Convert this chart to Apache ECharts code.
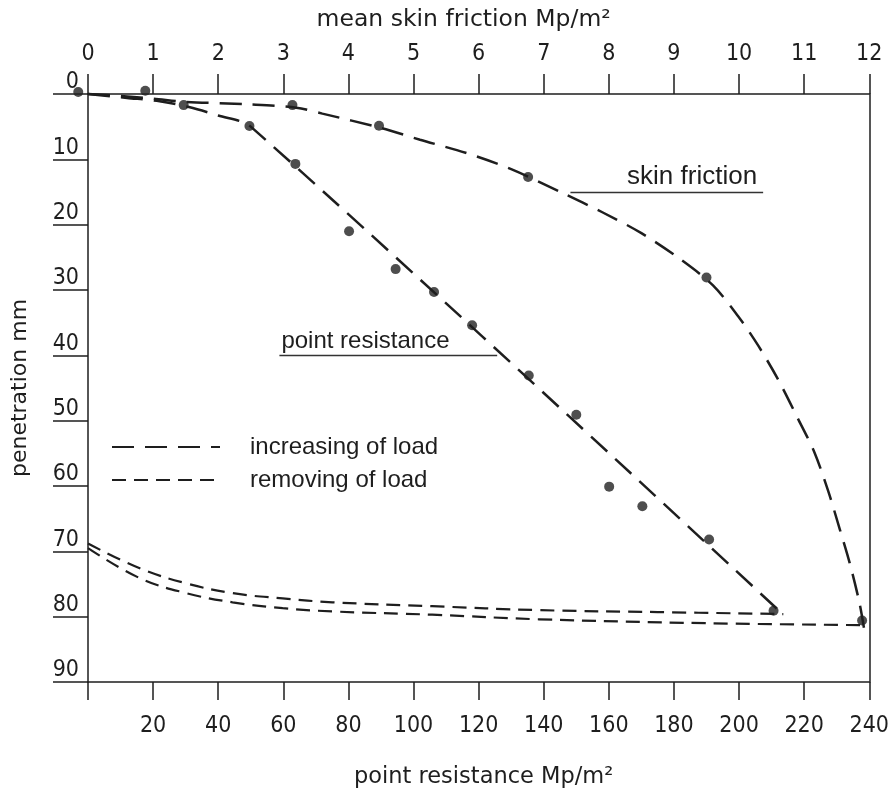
<!DOCTYPE html>
<html><head><meta charset="utf-8">
<script src="https://cdn.jsdelivr.net/npm/echarts@6/dist/echarts.min.js"></script>
<style>html,body{margin:0;padding:0;background:#fff}#c{width:892px;height:796px}</style>
</head><body><div id="c"></div>
<script>
// point resistance measurements [Mp/m2, penetration mm]
const prPoints = [[29.4,1.7],[49.6,4.9],[63.7,10.7],[80.2,21.0],[94.5,26.8],[106.3,30.3],[118.0,35.4],[135.4,43.1],[150.0,49.1],[160.1,60.1],[170.3,63.1],[190.8,68.2],[210.6,79.1]];
// mean skin friction measurements [Mp/m2, penetration mm]
const sfPoints = [[-0.15,-0.3],[0.88,-0.5],[3.14,1.7],[4.47,4.85],[6.76,12.7],[9.50,28.1],[11.89,80.6]];
// fitted curve, point resistance, increasing load
const prLine = [[0,0],[12,0.6],[22,1.1],[31,2.0],[40,3.3],[50,5.0],[213.6,79.7]];
// fitted curve, skin friction, increasing load
const sfLine = [[0,0],[0.5,0.3],[1.0,0.7],[1.5,1.2],[2.5,1.6],[3.2,2.1],[3.6,3.0],[4.5,5.2],[5.1,7.0],[5.8,9.0],[6.5,11.5],[7.3,15.2],[7.9,18.1],[8.5,21.3],[9.1,25.3],[9.6,29.3],[10.0,34.2],[10.3,38.6],[10.6,43.7],[10.9,49.6],[11.16,54.9],[11.37,60.8],[11.55,66.7],[11.70,71.8],[11.85,77.9],[11.92,81.8]];
// removing of load curves (point resistance units)
const unloadUpper = [[0,68.8],[15.9,72.6],[30.2,74.9],[44.4,76.4],[59.8,77.2],[75.1,77.8],[105.7,78.4],[138.5,79.0],[175,79.3],[213.6,79.6]];
const unloadLower = [[0,69.5],[15.9,74.1],[30.2,76.4],[44.4,77.8],[59.8,78.7],[75.1,79.2],[105.7,79.7],[138.5,80.4],[190,81.0],[239,81.3]];
// annotation underlines
const prNote = {text:'point resistance', from:[58.8,40.0], to:[125.7,40.0]};
const sfNote = {text:'skin friction', from:[7.41,15.0], to:[10.37,15.0]};
const legendNames = ['increasing of load','removing of load'];
const axisTitles = {top:'mean skin friction Mp/m²', bottom:'point resistance Mp/m²', left:'penetration mm'};

const INK = '#1e1e1e';
const NUM_FONT = '"Liberation Sans Narrow","DejaVu Sans Condensed",sans-serif';
const TXT_FONT = '"Liberation Sans",Arial,sans-serif';
const TITLE_FONT = '"DejaVu Sans",sans-serif';
const longDash = [22, 11];
const shortDash = [14, 8];

const chart = echarts.init(document.getElementById('c'), null, {renderer:'canvas'});
const line = {show:true, onZero:false, lineStyle:{color:INK, width:1.5}};
chart.setOption({
  backgroundColor:'#ffffff',
  animation:false,
  color:[INK],
  grid:{left:88, right:21, top:94, bottom:114, containLabel:false},
  legend:{
    data:legendNames, orient:'vertical', left:106, top:430,
    itemWidth:108, itemHeight:14, itemGap:9,
    itemStyle:{opacity:0, borderWidth:0},
    textStyle:{fontFamily:TXT_FONT, fontSize:24, color:INK, padding:[0,0,0,25]},
    selectedMode:false
  },
  xAxis:[
    {type:'value', position:'bottom', min:0, max:240, interval:20,
      axisLine:line, splitLine:{show:false},
      axisTick:{show:true, length:18, lineStyle:{color:INK, width:1.5}},
      axisLabel:{margin:33, fontFamily:NUM_FONT, fontSize:23, color:INK,
        formatter:v => v === 0 ? '' : String(v)},
      name:axisTitles.bottom, nameLocation:'middle', nameGap:84,
      nameTextStyle:{fontFamily:TITLE_FONT, fontSize:22.5, color:INK, padding:[0,0,0,10]}},
    {type:'value', position:'top', min:0, max:12, interval:1,
      axisLine:line, splitLine:{show:false},
      axisTick:{show:true, length:20, lineStyle:{color:INK, width:1.5}},
      axisLabel:{margin:28, fontFamily:NUM_FONT, fontSize:23, color:INK},
      name:axisTitles.top, nameLocation:'middle', nameGap:62,
      nameTextStyle:{fontFamily:TITLE_FONT, fontSize:23.5, color:INK, padding:[0,30,0,0]}}
  ],
  yAxis:[
    {type:'value', position:'left', inverse:true, min:0, max:90, interval:10,
      axisLine:line, splitLine:{show:false},
      axisTick:{show:true, length:35, lineStyle:{color:INK, width:1.5}},
      axisLabel:{margin:9, fontFamily:NUM_FONT, fontSize:23, color:INK, verticalAlign:'bottom', lineHeight:23, padding:[0,0,0,0]},
      name:axisTitles.left, nameLocation:'middle', nameGap:57,
      nameTextStyle:{fontFamily:TITLE_FONT, fontSize:22, color:INK}},
    {type:'value', position:'right', inverse:true, min:0, max:90, interval:10,
     axisLine:line, axisTick:{show:false},
     axisLabel:{show:false}, splitLine:{show:false}}
  ],
  series:[
    {name:'increasing of load', type:'line', xAxisIndex:0, yAxisIndex:0, data:prLine,
     showSymbol:false, symbol:'none', clip:false, smooth:0.3,
     itemStyle:{color:INK},
     lineStyle:{color:INK, width:2.5, type:longDash},
     markLine:{silent:true, symbol:['none','none'],
       lineStyle:{color:'#333', width:1.3, type:'solid'},
       label:{show:true, position:'insideStartTop', distance:2, formatter:prNote.text,
         fontFamily:TXT_FONT, fontSize:24, color:INK},
       data:[[{coord:prNote.from},{coord:prNote.to}]]}},
    {name:'increasing of load', type:'line', xAxisIndex:1, yAxisIndex:0, data:sfLine,
     showSymbol:false, symbol:'none', clip:false, smooth:0.3,
     itemStyle:{color:INK},
     lineStyle:{color:INK, width:2.5, type:longDash},
     markLine:{silent:true, symbol:['none','none'],
       lineStyle:{color:'#333', width:1.3, type:'solid'},
       label:{show:true, position:'insideEndTop', distance:2, formatter:sfNote.text,
         fontFamily:TXT_FONT, fontSize:26, color:INK, padding:[0,4,0,0]},
       data:[[{coord:sfNote.from},{coord:sfNote.to}]]}},
    {name:'removing of load', type:'line', xAxisIndex:0, yAxisIndex:0, data:unloadUpper,
     showSymbol:false, symbol:'none', clip:false, smooth:0.4,
     itemStyle:{color:INK},
     lineStyle:{color:INK, width:2.2, type:shortDash}},
    {name:'removing of load', type:'line', xAxisIndex:0, yAxisIndex:0, data:unloadLower,
     showSymbol:false, symbol:'none', clip:false, smooth:0.4,
     itemStyle:{color:INK},
     lineStyle:{color:INK, width:2.2, type:shortDash}},
    {name:'point resistance data', type:'scatter', xAxisIndex:0, yAxisIndex:0, data:prPoints,
     symbol:'circle', symbolSize:10, clip:false, itemStyle:{color:'#222'}},
    {name:'skin friction data', type:'scatter', xAxisIndex:1, yAxisIndex:0, data:sfPoints,
     symbol:'circle', symbolSize:10, clip:false, itemStyle:{color:'#222'}}
  ]
});
</script></body></html>
